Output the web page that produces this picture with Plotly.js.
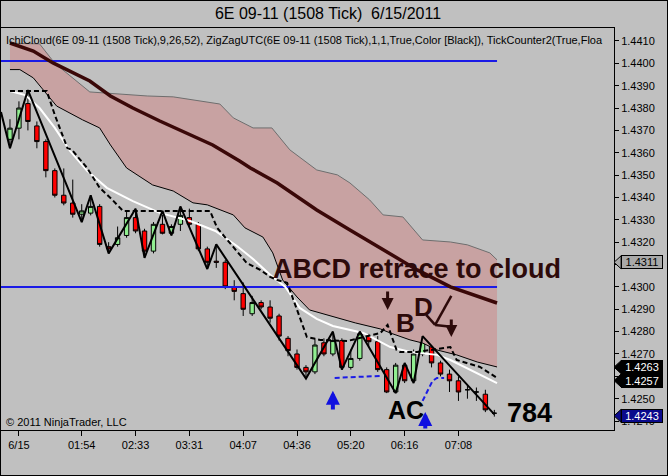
<!DOCTYPE html>
<html><head><meta charset="utf-8">
<script src="https://cdn.plot.ly/plotly-3.0.1.min.js"></script>
<style>
html,body{margin:0;padding:0;background:#c0c0c0;}
#wrap{position:relative;width:668px;height:476px;}
#chart{width:668px;height:476px;}
#frame{position:absolute;left:0;top:0;width:668px;height:476px;box-sizing:border-box;border:1px solid #000;pointer-events:none;}
</style>
</head><body><div id="wrap"><div id="chart"></div><div id="frame"></div></div>
<script>
// ---- candle data (bar index = position in arrays) ----
const open = [1.4366,1.4371,1.4382,1.4372,1.4365,1.4352,1.4341,1.43375,1.43325,1.4333,1.4336,1.4318,1.4319,1.4323,1.4331,1.4325,1.4316,1.4328,1.4324,1.4328,1.4331,1.4328,1.4317,1.43115,1.4311,1.4300,1.4297,1.4288,1.4293,1.4291,1.4287,1.4277,1.4270,1.4264,1.4262,1.4275,1.4270,1.4276,1.4264,1.4268,1.4278,1.42755,1.4263,1.4253,1.4265,1.4258,1.4270,1.42755,1.4266,1.4261,1.4258,1.4254,1.4253,1.4252,1.42435];
const high = [1.4375,1.4383,1.4388,1.4374,1.4366,1.4353,1.4353,1.4348,1.4337,1.4341,1.4337,1.4320,1.4327,1.4334,1.4335,1.4326,1.4329,1.4334,1.4328,1.4336,1.4335,1.4329,1.4318,1.4319,1.4312,1.4303,1.4302,1.4296,1.4294,1.4294,1.4288,1.4278,1.4272,1.4265,1.4277,1.4277,1.4280,1.4277,1.4272,1.4280,1.4279,1.4278,1.4264,1.4266,1.4266,1.4272,1.4278,1.4277,1.4267,1.4263,1.4260,1.4256,1.4255,1.4254,1.4245];
const low = [1.4362,1.4366,1.4370,1.4362,1.4349,1.4340,1.43365,1.4331,1.4329,1.4332,1.4318,1.4315,1.4318,1.4322,1.4324,1.4313,1.4315,1.43235,1.4323,1.4325,1.4327,1.4316,1.4308,1.43085,1.4299,1.4294,1.4287,1.4287,1.4290,1.4284,1.4276,1.4269,1.4263,1.4259,1.4261,1.4269,1.4269,1.4263,1.4263,1.4267,1.4273,1.4262,1.42525,1.42525,1.4257,1.4257,1.4269,1.4264,1.4260,1.4253,1.4249,1.4250,1.4249,1.4244,1.4242];
const close = [1.4371,1.4380,1.4374,1.4365,1.4352,1.4341,1.43375,1.43325,1.4334,1.4336,1.4319,1.4317,1.4322,1.4331,1.4325,1.4316,1.4328,1.4324,1.4327,1.4332,1.4328,1.4317,1.4311,1.4311,1.4300,1.4298,1.4290,1.4293,1.4291,1.4286,1.4278,1.42715,1.4264,1.4262,1.4274,1.4270,1.4276,1.4264,1.4268,1.4279,1.42755,1.4263,1.4253,1.4265,1.4258,1.4270,1.4276,1.4266,1.4261,1.4258,1.4253,1.4254,1.4253,1.4245,1.42435];

// ---- indicator lines (x = bar index, y = price) ----
const cloudUpIdx = [0,3.3,5.0,8.9,15.3,18.2,23.4,24.9,27.1,29.2,31.2,34.2,36.5,37.9,40.1,41.6,43.8,46.0,49.1,51.0,53.5,54.3];
const cloudUp = [1.4409,1.44087,1.4400,1.43872,1.43854,1.4385,1.43818,1.43756,1.43711,1.43711,1.43613,1.43523,1.43501,1.43465,1.43389,1.43322,1.43313,1.4321,1.43201,1.43188,1.43152,1.43121];
const cloudLowIdx = [0,1.1,2.6,4.5,5.2,8.1,10.0,11.2,13.0,15.9,18.2,20.4,22.0,24.9,26.2,28.2,29.3,30.4,32.0,33.4,35.3,38.5,41.3,42.4,44.6,46.0,47.6,49.8,52.1,54.3];
const cloudLow = [1.43972,1.43972,1.43935,1.43845,1.43809,1.43747,1.43711,1.43635,1.43532,1.43456,1.43429,1.43376,1.43367,1.43322,1.43264,1.43223,1.43152,1.43031,1.42955,1.42897,1.42875,1.42839,1.42812,1.42794,1.42763,1.42749,1.42718,1.42696,1.42664,1.42642];
const thickIdx = [0,2.6,4.8,8.9,11.2,13.7,16.7,19.7,22.6,25.6,26.8,29.8,34.2,37.9,41.6,45.4,49.1,52.7,54.3];
const thick = [1.44091,1.44055,1.44002,1.43921,1.43854,1.43800,1.43742,1.43689,1.43635,1.43563,1.43532,1.43465,1.43344,1.43255,1.43165,1.43076,1.43000,1.42951,1.42928];
const whiteIdx = [0,1.7,3.3,5.0,6.7,8.6,10.8,13.7,16.7,20.1,22.9,25.3,27.1,29.0,30.7,32.3,34.2,36.0,39.4,42.4,44.6,47.6,49.1,51.3,54.3];
const white = [1.43876,1.43858,1.43800,1.43711,1.43608,1.43519,1.43443,1.43384,1.43331,1.43295,1.43250,1.43183,1.43125,1.43054,1.43000,1.42906,1.42857,1.42825,1.42794,1.42731,1.42709,1.42696,1.42673,1.42629,1.42570];
const dashIdx = [0,4.1,5.0,6.4,6.9,8.6,10.0,11.2,12.6,22.3,23.1,24.9,26.4,27.9,29.0,29.8,30.9,31.6,33.1,34.6,37.6,41.3,42.1,43.1,43.5,45.4,49.1,49.8,51.0,52.4,54.3];
const dash = [1.43876,1.43876,1.43769,1.43621,1.43613,1.43532,1.43443,1.43398,1.43340,1.43340,1.43264,1.43179,1.43107,1.43076,1.43045,1.43031,1.43018,1.42942,1.42776,1.42763,1.42758,1.42794,1.42830,1.42718,1.42709,1.42709,1.42731,1.42673,1.42660,1.42642,1.42593];
const blueIdx = [36.2,41.3,null,46.0,47.1,47.6,48.4];
const blueDash = [1.42593,1.42602,null,1.42490,1.42579,1.42593,1.42593];
const zzIdx = [-1,0,2,8,9,11,14,15,17,18,19,22,23,33,36,37,39,43,44,45,46,54];
const zz = [1.43782,1.4362,1.4388,1.4329,1.4341,1.4315,1.4335,1.4313,1.4334,1.4323,1.4336,1.4308,1.4319,1.4259,1.4280,1.4263,1.4280,1.42525,1.4266,1.4257,1.4278,1.4243];
const levels = [1.4401, 1.4300];
const levelSpan = [-1.5, 54.3];

// ---- axis labels ----
const tickIdx = [1,8,14,20,26,32,38,44,50];
const tickText = ['6/15','01:54','02:33','03:31','04:07','04:36','05:20','06:16','07:08'];
const yTicks = [1.4240,1.4250,1.4260,1.4270,1.4280,1.4290,1.4300,1.4310,1.4320,1.4330,1.4340,1.4350,1.4360,1.4370,1.4380,1.4390,1.4400,1.4410];
const yTickText = ['1.4240','1.4250','','1.4270','1.4280','1.4290','1.4300','','1.4320','1.4330','1.4340','1.4350','1.4360','1.4370','1.4380','1.4390','1.4400','1.4410'];
const tagPrices = [1.4311, 1.4263, 1.4257, 1.4243];
const tagShift = [0, 2.5, 2.5, -1.5];
const tagFill = ['#a9a9a9', '#000000', '#000000', '#0a0a8c'];
const tagFont = ['#000000', '#ffffff', '#ffffff', '#ffffff'];

const FONT = 'Liberation Sans, Arial, sans-serif';
const idx = open.map((_, i) => i);
const MAROON = '#2d0a0a';
const PX_PER_UNIT = 22358;

const traces = [
  {type:'scatter', mode:'lines', x:cloudUpIdx, y:cloudUp, line:{color:'#6e6e6e', width:1}, hoverinfo:'skip'},
  {type:'scatter', mode:'lines', x:cloudLowIdx, y:cloudLow, fill:'tonexty', fillcolor:'#c8a2a2', line:{color:'#000', width:1}, hoverinfo:'skip'},
];
levels.forEach(v => traces.push({type:'scatter', mode:'lines', x:levelSpan, y:[v, v], line:{color:'#1a1ae6', width:2}, hoverinfo:'skip'}));
traces.push(
  {type:'scatter', mode:'lines', x:thickIdx, y:thick, line:{color:'#3a0808', width:3.5}, hoverinfo:'skip'},
  {type:'candlestick', x:idx, open:open, high:high, low:low, close:close,
    increasing:{line:{color:'#000', width:1}, fillcolor:'#90ee90'},
    decreasing:{line:{color:'#000', width:1}, fillcolor:'#ff0000'}, whiskerwidth:0, hoverinfo:'skip'},
  {type:'scatter', mode:'lines', x:whiteIdx, y:white, line:{color:'#ffffff', width:2}, hoverinfo:'skip'},
  {type:'scatter', mode:'lines', x:dashIdx, y:dash, line:{color:'#000', width:2, dash:'5px,3px'}, hoverinfo:'skip'},
  {type:'scatter', mode:'lines', x:blueIdx, y:blueDash, connectgaps:false, line:{color:'#1a1ae6', width:2, dash:'5px,3px'}, hoverinfo:'skip'},
  {type:'scatter', mode:'lines', x:zzIdx, y:zz, line:{color:'#000', width:2}, hoverinfo:'skip'}
);

const annotations = [
  {xref:'paper', yref:'paper', x:0.005, y:0.970, xanchor:'left', yanchor:'middle', showarrow:false,
   text:'IchiCloud(6E 09-11 (1508 Tick),9,26,52), ZigZagUTC(6E 09-11 (1508 Tick),1,1,True,Color [Black]), TickCounter2(True,Floa',
   font:{family:FONT, size:11, color:'#000'}},
  {xref:'paper', yref:'paper', x:0.005, y:0.02, xanchor:'left', yanchor:'middle', showarrow:false,
   text:'© 2011 NinjaTrader, LLC', font:{family:FONT, size:11, color:'#000'}},
  {x:29.1, y:1.4308, xanchor:'left', yanchor:'middle', showarrow:false, text:'<b>ABCD retrace to cloud</b>', font:{family:FONT, size:27, color:MAROON}},
  {x:44.15, y:1.42839, showarrow:false, text:'<b>B</b>', font:{family:FONT, size:26, color:MAROON}},
  {x:46.15, y:1.42908, showarrow:false, text:'<b>D</b>', font:{family:FONT, size:26, color:MAROON}},
  {x:44.15, y:1.4245, showarrow:false, text:'<b>AC</b>', font:{family:FONT, size:25, color:'#000'}},
  {x:57.97, y:1.42436, showarrow:false, text:'<b>784</b>', font:{family:FONT, size:27, color:'#000'}},
  // arrows
  {x:42.1, y:1.42897, ax:42.1, ay:1.42986, axref:'x', ayref:'y', text:'', showarrow:true, arrowhead:2, arrowsize:0.8, arrowwidth:3, arrowcolor:MAROON, standoff:0},
  {x:49.2, y:1.42776, ax:49.2, ay:1.42861, axref:'x', ayref:'y', text:'', showarrow:true, arrowhead:2, arrowsize:0.8, arrowwidth:3, arrowcolor:MAROON, standoff:0},
  {x:36.0, y:1.42535, ax:36.0, ay:1.42445, axref:'x', ayref:'y', text:'', showarrow:true, arrowhead:2, arrowsize:0.7, arrowwidth:4, arrowcolor:'#1010e0', standoff:0},
  {x:46.3, y:1.42441, ax:46.3, ay:1.4236, axref:'x', ayref:'y', text:'', showarrow:true, arrowhead:2, arrowsize:0.7, arrowwidth:4, arrowcolor:'#1010e0', standoff:0}
];
const shapes = [
  {type:'line', x0:49.2, y0:1.4296, x1:47.4, y1:1.4283, line:{color:MAROON, width:2.5}},
  {type:'line', x0:46.4, y0:1.42875, x1:47.4, y1:1.4283, line:{color:MAROON, width:2.5}},
  {type:'line', x0:47.4, y0:1.4283, x1:49.2, y1:1.42822, line:{color:MAROON, width:2.5}}
];
tagPrices.forEach((p, k) => {
  const c = p + tagShift[k] / PX_PER_UNIT;
  const h = 6.5 / PX_PER_UNIT;
  annotations.push({xref:'paper', yref:'y', x:1, y:p, yshift:tagShift[k], xshift:7, xanchor:'left', yanchor:'middle',
    showarrow:false, text:p.toFixed(4), bgcolor:tagFill[k], bordercolor:'#000', borderwidth:1, borderpad:0,
    width:40, height:12, align:'center', font:{family:FONT, size:11, color:tagFont[k]}});
  shapes.push({type:'path', xref:'paper', yref:'y', path:`M 1,${c} L 1.0116,${c + h} L 1.0116,${c - h} Z`,
    fillcolor:tagFill[k], line:{color:'#000', width:1}});
});

const layout = {
  width:668, height:476,
  margin:{l:1, r:54, t:28, b:46},
  paper_bgcolor:'#c0c0c0', plot_bgcolor:'#c0c0c0',
  showlegend:false,
  font:{family:FONT, size:11, color:'#000'},
  title:{text:'6E 09-11 (1508 Tick)\u00a0 6/15/2011', x:0.491, xref:'container', xanchor:'center',
         y:1 - 13/476, yref:'container', yanchor:'middle', font:{family:FONT, size:16, color:'#000'}},
  xaxis:{range:[-1.0, 67.34], tickmode:'array', tickvals:tickIdx, ticktext:tickText,
         ticks:'outside', ticklen:5, tickcolor:'#000', showgrid:false, zeroline:false,
         showline:true, linecolor:'#000', linewidth:1, mirror:true,
         rangeslider:{visible:false}, tickfont:{family:FONT, size:11, color:'#000'}},
  yaxis:{side:'right', range:[1.4236, 1.44158], tickmode:'array', tickvals:yTicks, ticktext:yTickText,
         ticks:'outside', ticklen:4, tickcolor:'#000', showgrid:false, zeroline:false,
         showline:true, linecolor:'#000', linewidth:1, mirror:true,
         tickfont:{family:FONT, size:11, color:'#000'}},
  annotations:annotations,
  shapes:shapes
};
Plotly.newPlot('chart', traces, layout, {staticPlot:true, displayModeBar:false});
</script></body></html>
